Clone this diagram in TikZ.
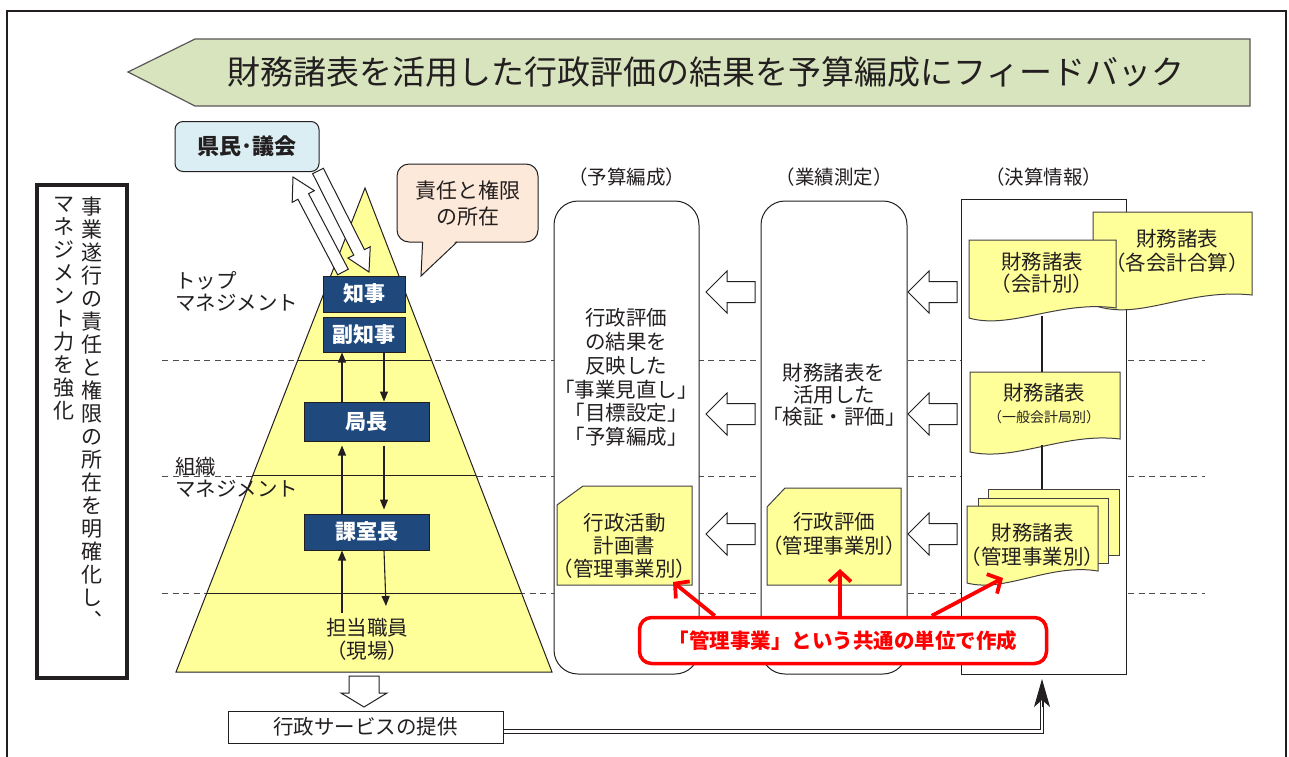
\documentclass[tikz,border=0pt]{standalone}
\usepackage{fontspec}
\setmainfont{Noto Sans CJK JP}
\usetikzlibrary{arrows.meta,calc}
\definecolor{ink}{HTML}{231F20}
\definecolor{bannergreen}{HTML}{D7E4BD}
\definecolor{paleblue}{HTML}{DBEEF4}
\definecolor{peach}{HTML}{FDE9D9}
\definecolor{pyryellow}{HTML}{FFFF99}
\definecolor{navy}{HTML}{1F497D}
\definecolor{alertred}{HTML}{FF0000}
\newcommand{\myfs}[2]{\fontsize{#1}{#2}\selectfont}
\newcommand{\hollowarrow}[5]{%
  \coordinate (ha-A) at #1;
  \coordinate (ha-B) at #2;
  \coordinate (ha-C) at ($(ha-B)!#5!(ha-A)$);
  \draw[hollow] ($(ha-A)!#3!90:(ha-B)$) -- ($(ha-C)!#3!90:(ha-B)$) -- ($(ha-C)!#4!90:(ha-B)$) -- (ha-B)
     -- ($(ha-C)!#4!-90:(ha-B)$) -- ($(ha-C)!#3!-90:(ha-B)$) -- ($(ha-A)!#3!-90:(ha-B)$) -- cycle;}
\begin{document}
\begin{tikzpicture}[x=1pt,y=-1pt,
  every node/.style={text=ink},
  txt/.style={font=\myfs{20.5}{24}, align=center, inner sep=0pt},
  navybox/.style={draw=ink, line width=1pt, fill=navy, text=white, font=\bfseries\myfs{21}{24}, inner sep=0pt},
  doc/.style={draw=ink!85, fill=pyryellow, line width=1pt},
  dashrule/.style={draw=ink!80, line width=1pt, dash pattern=on 6pt off 4.5pt},
  hollow/.style={draw=ink, fill=white, line width=1pt, line join=miter},
  flow/.style={draw=ink, line width=1.1pt, -{Triangle[length=10pt,width=8pt]}},
  colbox/.style={draw=ink, line width=1pt, fill=white, inner sep=0pt},
  redarrow/.style={draw=alertred, line width=3.8pt, -{Straight Barb[length=10pt,width=22pt]}},
  collbl/.style={font=\myfs{19.5}{21}, inner sep=0pt},
]
\useasboundingbox (0,0) rectangle (1289,756);
\fill[white] (0,0) rectangle (1289,756);

% outer frame
\draw[ink, line width=2.5pt] (7,760) -- (7,11) -- (1286,11) -- (1286,760);

% banner
\filldraw[fill=bannergreen, draw=ink!75, line width=1.2pt] (128,72) -- (195,39) -- (1250,39) -- (1250,106) -- (195,106) -- cycle;
\node[font=\myfs{33}{36}, inner sep=0pt] (banner) at (706,72) {財務諸表を活用した行政評価の結果を予算編成にフィードバック};

% left vertical box
\node[draw=ink, line width=4pt, minimum width=90pt, minimum height=493pt, inner sep=0pt] (vbox) at (81.5,431.5) {};
\node[font=\myfs{21}{23}, align=center, inner sep=0pt, anchor=north] (vcol1) at (92,197) {事\\業\\遂\\行\\の\\責\\任\\と\\権\\限\\の\\所\\在\\を\\明\\確\\化\\し\\︑};
\node[font=\myfs{21}{23}, align=center, inner sep=0pt, anchor=north] (vcol2) at (64,197) {マ\\ネ\\ジ\\メ\\ン\\ト\\力\\を\\強\\化};

% dashed level lines
\draw[dashrule] (162,360) -- (1205,360);
\draw[dashrule] (162,476) -- (1205,476);
\draw[dashrule] (162,593) -- (1205,593);

% pyramid
\coordinate (apex) at (365,188);
\coordinate (bl) at (176,672);
\coordinate (br) at (552,672);
\filldraw[fill=pyryellow, draw=ink, line width=1pt] (apex) -- (bl) -- (br) -- cycle;
\draw[ink, line width=1pt] ($(apex)!0.3554!(bl)$) -- ($(apex)!0.3554!(br)$);
\draw[ink, line width=1pt] ($(apex)!0.5950!(bl)$) -- ($(apex)!0.5950!(br)$);
\draw[ink, line width=1pt] ($(apex)!0.8368!(bl)$) -- ($(apex)!0.8368!(br)$);

\node[txt, font=\myfs{20.5}{22}, align=left, anchor=west] (toplbl) at (175,291) {トップ\\マネジメント};
\node[txt, font=\myfs{20.5}{22}, align=left, anchor=west] (orglbl) at (175,477) {組織\\マネジメント};
\node[txt, font=\myfs{20.5}{23}] (tanto) at (367,639) {担当職員\\（現場）};

% arrows between citizens and governor
\hollowarrow{(343,272)}{(293,177)}{6pt}{12.5pt}{22pt}
\hollowarrow{(318,171)}{(369,272)}{6pt}{12.5pt}{22pt}

\node[draw=ink, line width=1pt, fill=paleblue, rounded corners=8pt, minimum width=144pt, minimum height=50pt, inner sep=0pt, font=\bfseries\myfs{22}{24}] (kenmin) at (247,146.5) {県民･議会};

% callout
\node[draw=ink, line width=1pt, fill=peach, rounded corners=12pt, minimum width=141pt, minimum height=78pt, txt, font=\myfs{21}{26}] (sekinin) at (467.5,203) {責任と権限\\の所在};
\fill[peach] (422.6,240.3) -- (456.5,240.3) -- (421,276) -- cycle;
\draw[ink, line width=1pt] (422.6,242) -- (421,276) -- (457,242);

% navy boxes
\node[navybox, minimum width=82pt, minimum height=36pt] (chiji) at (364,294) {知事};
\node[navybox, minimum width=82pt, minimum height=35pt] (fuku) at (364,334.5) {副知事};
\node[navybox, minimum width=125pt, minimum height=39pt] (kyoku) at (366.5,421.5) {局長};
\node[navybox, minimum width=125pt, minimum height=36pt] (kashitsu) at (366.5,532) {課室長};

\coordinate (upx) at (342,0);
\coordinate (dnx) at (384,0);
\coordinate (tantoUp) at (342,613);
\coordinate (tantoDn) at (386,606);
\draw[flow] (kyoku.north -| upx) -- (fuku.south -| upx);
\draw[flow] (fuku.south -| dnx) -- (kyoku.north -| dnx);
\draw[flow, shorten >=4pt] (kashitsu.north -| upx) -- (kyoku.south -| upx);
\draw[flow, shorten <=4pt, shorten >=4pt] (kyoku.south -| dnx) -- (kashitsu.north -| dnx);
\draw[flow] (tantoUp) -- (kashitsu.south -| upx);
\draw[flow] (kashitsu.south -| dnx) -- (tantoDn);

% columns
\node[colbox, rounded corners=24pt, minimum width=145pt, minimum height=473pt] (yosan) at (626.5,437.5) {};
\node[colbox, rounded corners=24pt, minimum width=146pt, minimum height=473pt] (gyoseki) at (834,437.5) {};
\node[colbox, minimum width=165pt, minimum height=475pt] (kessan) at (1043.5,436.5) {};
\node[collbl] (yosanlbl) at (626.5,177) {（予算編成）};
\node[collbl] (gyosekilbl) at (834,177) {（業績測定）};
\node[collbl] (kessanlbl) at (1043.5,177) {（決算情報）};

\node[txt, font=\myfs{20.5}{23.8}] (yosantxt) at (626,377.5) {行政評価\\の結果を\\反映した\\「事業見直し」\\「目標設定」\\「予算編成」};
\node[txt, font=\myfs{20.5}{22}] (gyosekitxt) at (834,395) {財務諸表を\\活用した\\「検証・評価」};

% hollow arrows between columns
\hollowarrow{(755,292)}{(706,292)}{10.5pt}{21pt}{21pt}
\hollowarrow{(755,414)}{(706,414)}{10.5pt}{21pt}{21pt}
\hollowarrow{(755,534)}{(706,534)}{10.5pt}{21pt}{21pt}
\hollowarrow{(957,292)}{(908,292)}{10.5pt}{21pt}{21pt}
\hollowarrow{(957,414)}{(908,414)}{10.5pt}{21pt}{21pt}
\hollowarrow{(957,534)}{(908,534)}{10.5pt}{21pt}{21pt}

% documents in columns 1 and 2
\filldraw[doc] (557,505) -- (583,486) -- (692,486) -- (692,585) -- (557,585) -- cycle;
\node[txt, font=\myfs{20.5}{23}] (plan) at (624.5,546) {行政活動\\計画書\\（管理事業別）};
\filldraw[doc] (767,507) -- (785,488) -- (901,488) -- (901,585) -- (767,585) -- cycle;
\node[txt, font=\myfs{20.5}{24}] (hyoka) at (834,534) {行政評価\\（管理事業別）};

% financial statements
\filldraw[doc] (1093,212) -- (1252,212) -- (1252,295) .. controls (1185,288) and (1140,322) .. (1093,305) -- cycle;
\node[txt, font=\myfs{20.5}{24}] (gassan) at (1177,251) {財務諸表\\（各会計合算）};
\filldraw[doc] (969,240) -- (1116,240) -- (1116,308) .. controls (1060,300) and (1010,330) .. (969,318) -- cycle;
\node[txt, font=\myfs{20.5}{22}] (kaikei) at (1042,273) {財務諸表\\（会計別）};
\filldraw[doc] (970,372) -- (1120,372) -- (1120,439) .. controls (1065,432) and (1015,462) .. (970,452) -- cycle;
\node[txt] (ippan1) at (1044,393) {財務諸表};
\node[txt, font=\myfs{14}{16}] (ippan2) at (1044,417) {（一般会計局別）};
\filldraw[doc] (988,489) rectangle (1119,555);
\filldraw[doc] (978,498) rectangle (1108,563);
\filldraw[doc] (967,506) -- (1098,506) -- (1098,571) .. controls (1050,563) and (1005,593) .. (967,583) -- cycle;
\node[txt, font=\myfs{20.5}{24}] (kanrifs) at (1032.5,545) {財務諸表\\（管理事業別）};
\coordinate (kaikeiB) at (1042,316);
\coordinate (ippanT) at (1042,372);
\coordinate (ippanB) at (1042,445);
\coordinate (stackT) at (1042,489);
\draw[ink, line width=2pt] (kaikeiB) -- (ippanT);
\draw[ink, line width=2pt] (ippanB) -- (stackT);

% red note
\node[draw=alertred, line width=3.5pt, fill=white, rounded corners=12pt, minimum width=407pt, minimum height=46pt, inner sep=0pt, text=alertred, font=\bfseries\myfs{20.5}{24}] (kanri) at (843,640.5) {「管理事業」という共通の単位で作成};
\coordinate (tipA) at (673,582);
\coordinate (tipB) at (840,569);
\coordinate (tipC) at (1003,578);
\draw[redarrow] ($(kanri.north west)+(77,0)$) -- (tipA);
\draw[redarrow] (kanri.north -| tipB) -- (tipB);
\draw[redarrow] ($(kanri.north west)+(294,0)$) -- (tipC);

% bottom
\hollowarrow{(364,676)}{(364,707)}{15pt}{23pt}{14pt}
\node[draw=ink, line width=1pt, minimum width=275pt, minimum height=32pt, inner sep=0pt, font=\myfs{20.5}{24}] (svc) at (365.5,727) {行政サービスの提供};
\coordinate (dblstart) at ($(svc.east)+(0,4.5)$);
\coordinate (kessantip) at (1042,679);
\draw[ink, line width=0.8pt, double=white, double distance=2.5pt] (dblstart) -- (kessantip |- dblstart) -- ($(kessantip)+(0,22)$);
\draw[ink, line width=1pt, -{Stealth[length=28pt,width=16pt,inset=7pt]}] ($(kessantip)+(0,28)$) -- (kessantip);
\end{tikzpicture}
\end{document}
